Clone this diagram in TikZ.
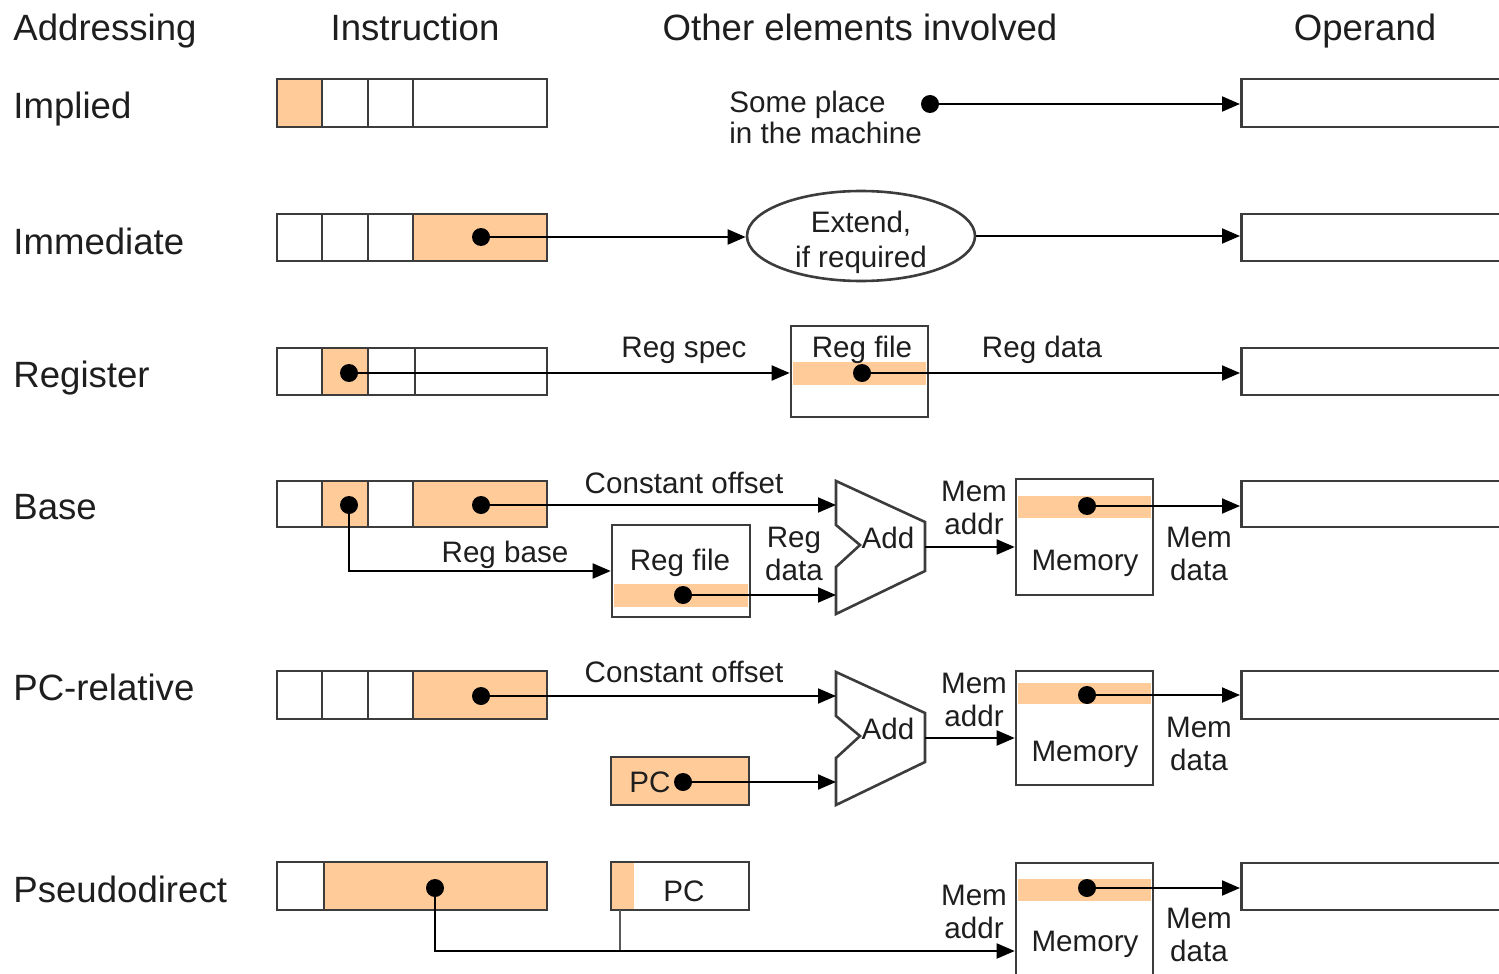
\documentclass[tikz,border=0pt]{standalone}
\usepackage{fontspec}
\setmainfont{Liberation Sans}
\usetikzlibrary{arrows.meta,shapes.geometric}
\definecolor{hl}{RGB}{255,204,153}
\definecolor{edge}{RGB}{60,60,60}
\definecolor{ink}{RGB}{30,30,30}
\tikzset{
  cellbox/.style={draw=edge, line width=1.3pt},
  hlcell/.style={cellbox, fill=hl},
  band/.style={fill=hl, draw=none},
  unitbox/.style={draw=edge, line width=1.3pt, rectangle, inner sep=0pt},
  dotmark/.style={circle, fill=black, inner sep=0pt, minimum size=9pt},
  conn/.style={draw=black, line width=0.95pt},
  arr/.style={conn, -{Triangle[length=9pt,width=7.5pt]}},
  head/.style={font=\fontsize{18.3}{22}\selectfont, text=ink, inner sep=0pt, anchor=base},
  headw/.style={head, anchor=base west},
  lbl/.style={font=\fontsize{14.8}{16.5}\selectfont, text=ink, inner sep=0pt, align=center},
  lblb/.style={lbl, anchor=base},
  adder/.pic={
    \draw[edge, line width=1.3pt, line join=miter]
      (0,0) -- (89,41) -- (89,90) -- (0,133) -- (0,86) -- (24,64) -- (0,44) -- cycle;
    \coordinate (-inA) at (0,24);
    \coordinate (-inB) at (0,114);
    \coordinate (-out) at (89,66);
    \node[lbl] at (52,57) {Add};
  }
}
\begin{document}
\begin{tikzpicture}[x=0.5pt, y=-0.5pt]
\useasboundingbox (0,0) rectangle (1499,974);

% column headings
\node[headw] at (13,41) {Addressing};
\node[head] at (415,41) {Instruction};
\node[head] at (860,41) {Other elements involved};
\node[head] at (1365,41) {Operand};

% addressing mode names
\node[headw] at (13,119) {Implied};
\node[headw] at (13,254) {Immediate};
\node[headw] at (13,387) {Register};
\node[headw] at (13,519) {Base};
\node[headw] at (13,700) {PC-relative};
\node[headw] at (13,902) {Pseudodirect};

% operand boxes (open to the right)
\node[unitbox, anchor=west, minimum width=150pt, minimum height=24pt] (op1) at (1240,103) {};
\node[unitbox, anchor=west, minimum width=150pt, minimum height=23.5pt] (op2) at (1240,237.5) {};
\node[unitbox, anchor=west, minimum width=150pt, minimum height=23.5pt] (op3) at (1240,371.5) {};
\node[unitbox, anchor=west, minimum width=150pt, minimum height=23pt] (op4) at (1240,504) {};
\node[unitbox, anchor=west, minimum width=150pt, minimum height=24pt] (op5) at (1240,695) {};
\node[unitbox, anchor=west, minimum width=150pt, minimum height=23.5pt] (op6) at (1240,886.5) {};

% ---------- Implied ----------
\filldraw[hlcell] (277,79) rectangle (322,127);
\draw[cellbox] (322,79) rectangle (368,127);
\draw[cellbox] (368,79) rectangle (413,127);
\draw[cellbox] (413,79) rectangle (547,127);
\node[lbl, align=left, anchor=west, font=\fontsize{14.8}{15.5}\selectfont] at (729,117) {Some place\\in the machine};
\node[dotmark] (s1) at (930,104) {};
\draw[arr] (s1.center) -- (s1 -| op1.west);

% ---------- Immediate ----------
\draw[cellbox] (277,214) rectangle (322,261);
\draw[cellbox] (322,214) rectangle (368,261);
\draw[cellbox] (368,214) rectangle (413,261);
\filldraw[hlcell] (413,214) rectangle (547,261);
\node[draw=edge, line width=1.3pt, ellipse, minimum width=114pt, minimum height=45pt, inner sep=0pt] (ext) at (861,236) {};
\node[lbl, font=\fontsize{14.8}{17.5}\selectfont] at (861,242) {Extend,\\if required};
\node[dotmark] (im) at (481,237) {};
\draw[arr] (im.center) -- (im -| ext.west);
\draw[arr] (ext.east) -- (ext.east -| op2.west);

% ---------- Register ----------
\draw[cellbox] (277,348) rectangle (322,395);
\filldraw[hlcell] (322,348) rectangle (368,395);
\draw[cellbox] (415,348) rectangle (547,395);
\draw[cellbox] (368,348) rectangle (415,395);
\fill[band] (793,362) rectangle (926,385);
\node[unitbox, minimum width=68.5pt, minimum height=45.5pt] (rf1) at (859.5,371.5) {};
\node[lblb] at (862,357) {Reg file};
\node[lblb] at (684,357) {Reg spec};
\node[lblb] at (1042,357) {Reg data};
\node[dotmark] (r1) at (349,373) {};
\node[dotmark] (rd1) at (862,373) {};
\draw[arr] (r1.center) -- (r1 -| rf1.west);
\draw[arr] (rd1.center) -- (rd1 -| op3.west);

% ---------- Base ----------
\draw[cellbox] (277,481) rectangle (322,527);
\filldraw[hlcell] (322,481) rectangle (368,527);
\draw[cellbox] (368,481) rectangle (413,527);
\filldraw[hlcell] (413,481) rectangle (547,527);
\fill[band] (614,584) rectangle (748,607);
\node[unitbox, minimum width=69pt, minimum height=46pt] (rf2) at (681,571) {};
\node[lblb] at (680,570) {Reg file};
\pic (addB) at (836,481) {adder};
\fill[band] (1018,496) rectangle (1151,518);
\node[unitbox, minimum width=68.5pt, minimum height=58pt] (mem4) at (1084.5,537) {};
\node[lblb] at (1085,570) {Memory};
\node[lbl] at (684,483) {Constant offset};
\node[lblb] at (505,562) {Reg base};
\node[lbl] at (794,554) {Reg\\data};
\node[lbl] at (974,508) {Mem\\addr};
\node[lbl] at (1199,554) {Mem\\data};
\node[dotmark] (b1) at (349,505) {};
\node[dotmark] (b2) at (481,505) {};
\node[dotmark] (rd2) at (683,595) {};
\node[dotmark] (md4) at (1087,506) {};
\draw[arr] (b2.center) -- (b2 -| addB-inA);
\draw[arr] (b1.center) |- (rf2.west);
\draw[arr] (rd2.center) -- (rd2 -| addB-inB);
\draw[arr] (addB-out) -- (addB-out -| mem4.west);
\draw[arr] (md4.center) -- (md4 -| op4.west);

% ---------- PC-relative ----------
\draw[cellbox] (277,671) rectangle (322,719);
\draw[cellbox] (322,671) rectangle (368,719);
\draw[cellbox] (368,671) rectangle (413,719);
\filldraw[hlcell] (413,671) rectangle (547,719);
\node[unitbox, fill=hl, minimum width=69pt, minimum height=24pt] (pc5) at (680,781) {};
\node[lblb] at (650,792) {PC};
\pic (addP) at (836,672) {adder};
\fill[band] (1018,683) rectangle (1151,704);
\node[unitbox, minimum width=68.5pt, minimum height=57pt] (mem5) at (1084.5,728) {};
\node[lblb] at (1085,761) {Memory};
\node[lbl] at (684,672) {Constant offset};
\node[lbl] at (974,700) {Mem\\addr};
\node[lbl] at (1199,744) {Mem\\data};
\node[dotmark] (p1) at (481,696) {};
\node[dotmark] (pcd) at (683,782) {};
\node[dotmark] (md5) at (1087,695) {};
\draw[arr] (p1.center) -- (p1 -| addP-inA);
\draw[arr] (pcd.center) -- (pcd -| addP-inB);
\draw[arr] (addP-out) -- (addP-out -| mem5.west);
\draw[arr] (md5.center) -- (md5 -| op5.west);

% ---------- Pseudodirect ----------
\draw[cellbox] (277,862) rectangle (324,910);
\filldraw[hlcell] (324,862) rectangle (547,910);
\fill[band] (612,863) rectangle (634,909);
\node[unitbox, minimum width=69pt, minimum height=24pt] (pc6) at (680,886) {};
\node[lblb] at (684,901) {PC};
\fill[band] (1018,879) rectangle (1151,901);
\node[unitbox, minimum width=68.5pt, minimum height=63.5pt] (mem6) at (1084.5,926.5) {};
\node[lblb] at (1085,951) {Memory};
\node[lbl] at (974,912) {Mem\\addr};
\node[lbl] at (1199,935) {Mem\\data};
\path (mem6.west) ++(0,24.5) coordinate (m6in);
\coordinate (pcTap) at (620,910);
\node[dotmark] (pd) at (435,888) {};
\node[dotmark] (md6) at (1087,888) {};
\draw[draw=edge!85, line width=0.9pt] (pcTap) -- (pcTap |- m6in);
\draw[arr] (pd.center) |- (m6in);
\draw[arr] (md6.center) -- (md6 -| op6.west);
\end{tikzpicture}
\end{document}
